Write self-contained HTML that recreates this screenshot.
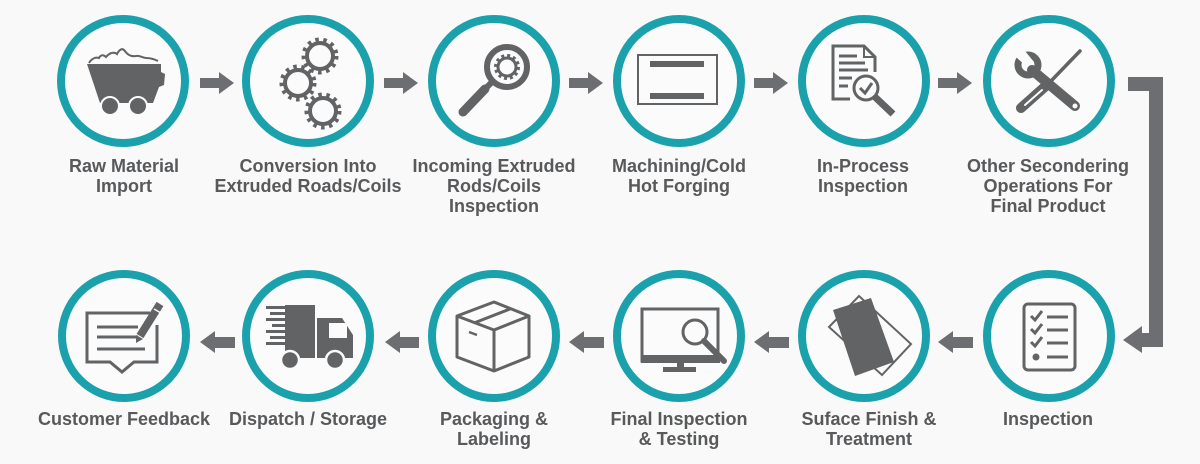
<!DOCTYPE html>
<html><head><meta charset="utf-8"><style>
html,body{margin:0;padding:0;background:#f9f9f9;}
svg{display:block;}
text{font-family:"Liberation Sans",Arial,sans-serif;font-weight:bold;font-size:18px;fill:#58595b;text-anchor:middle;}
</style></head><body>
<svg width="1200" height="464" viewBox="0 0 1200 464" xmlns="http://www.w3.org/2000/svg">
<rect x="0" y="0" width="1200" height="464" fill="#f9f9f9"/>
<g fill="#fbfbfb" stroke="#1ba1ac" stroke-width="8">
<circle cx="123" cy="81" r="62"/><circle cx="308" cy="81" r="62"/><circle cx="494" cy="81" r="62"/>
<circle cx="679" cy="81" r="62"/><circle cx="864" cy="81" r="62"/><circle cx="1049" cy="81" r="62"/>
<circle cx="124" cy="336" r="62"/><circle cx="308" cy="336" r="62"/><circle cx="494" cy="336" r="62"/>
<circle cx="679" cy="336" r="62"/><circle cx="864" cy="336" r="62"/><circle cx="1049" cy="336" r="62"/>
</g>
<!-- row 1 arrows -->
<g fill="#6d6e71">
<polygon points="200,78 219,78 219,72 234,83 219,94 219,88 200,88"/>
<polygon points="384,78 403,78 403,72 418,83 403,94 403,88 384,88"/>
<polygon points="569,78 588,78 588,72 603,83 588,94 588,88 569,88"/>
<polygon points="754,78 773,78 773,72 788,83 773,94 773,88 754,88"/>
<polygon points="938,78 957,78 957,72 972,83 957,94 957,88 938,88"/>
<!-- row 2 arrows (left) -->
<polygon points="200,342 215,331 215,337 235,337 235,348 215,348 215,353"/>
<polygon points="385,342 400,331 400,337 419,337 419,348 400,348 400,353"/>
<polygon points="569,342 584,331 584,337 604,337 604,348 584,348 584,353"/>
<polygon points="754,342 769,331 769,337 789,337 789,348 769,348 769,353"/>
<polygon points="938,342 953,331 953,337 973,337 973,348 953,348 953,353"/>
<!-- connector -->
<polygon points="1128,77 1163,77 1163,347 1142,347 1142,353 1123,340 1142,326 1142,333 1149,333 1149,91 1128,91"/>
</g>

<g fill="#626365" stroke="none">
<!-- icon1 mine cart -->
<path d="M87,64 L161,64 L161,72 L165,74 L164,85 L159,87 L153,103 L100,103 Z"/>
<path d="M89,63 C92,58 96,57 99,58 C101,54 104,55 106,57 C110,52 115,52 117,54 C119,50 122,48 124,50 C127,54 130,57 136,56 C140,55 142,58 146,58 C150,58 154,59 158,61" fill="none" stroke="#626365" stroke-width="2"/>
<circle cx="110" cy="106" r="9" stroke="#fbfbfb" stroke-width="2"/>
<circle cx="138" cy="106" r="9" stroke="#fbfbfb" stroke-width="2"/>
</g>
<!-- icon2 gears -->
<g fill="none" stroke="#626365">
<circle cx="320" cy="56" r="13" stroke-width="4"/><circle cx="320" cy="56" r="16.5" stroke-width="4" stroke-dasharray="3.5 4.6"/>
<circle cx="298" cy="83" r="13" stroke-width="4"/><circle cx="298" cy="83" r="16.5" stroke-width="4" stroke-dasharray="3.5 4.6"/>
<circle cx="323" cy="111" r="13" stroke-width="4"/><circle cx="323" cy="111" r="16.5" stroke-width="4" stroke-dasharray="3.5 4.6"/>
</g>
<!-- icon3 magnifier with gear -->
<g fill="none" stroke="#626365">
<circle cx="507" cy="67" r="20" stroke-width="6"/>
<circle cx="507" cy="67" r="9" stroke-width="3"/>
<circle cx="507" cy="67" r="11.5" stroke-width="3" stroke-dasharray="3 3"/>
<line x1="492" y1="82" x2="485" y2="89" stroke-width="6"/>
<line x1="485" y1="89" x2="463" y2="112" stroke-width="9" stroke-linecap="round"/>
</g>
<!-- icon4 machining -->
<rect x="638" y="55" width="79" height="49" fill="none" stroke="#626365" stroke-width="2"/>
<rect x="650" y="61" width="54" height="6" fill="#626365"/>
<rect x="650" y="93" width="54" height="6" fill="#626365"/>
<!-- icon5 document with magnifier -->
<g fill="none" stroke="#626365" stroke-width="3">
<path d="M850,99 L833,99 L833,46 L864,46 L875,57 L875,72"/>
<path d="M864,46 L864,57 L875,57" stroke-width="2"/>
<line x1="839" y1="56" x2="857" y2="56"/>
<line x1="839" y1="63" x2="865" y2="63"/>
<line x1="839" y1="70" x2="868" y2="70"/>
<line x1="839" y1="78" x2="852" y2="78"/>
<line x1="839" y1="86" x2="848" y2="86"/>
<circle cx="866" cy="88" r="12"/>
<path d="M860,88 L865,93 L872,83"/>
<line x1="875" y1="97" x2="893" y2="114" stroke-width="7"/>
</g>
<!-- icon6 wrench and screwdriver -->
<g stroke="#626365" fill="none" stroke-linecap="round">
<line x1="1080" y1="51" x2="1052" y2="80" stroke-width="3.5"/>
<line x1="1048" y1="84" x2="1021" y2="108" stroke-width="10"/>
<line x1="1042" y1="90" x2="1025" y2="105" stroke-width="2" stroke="#fbfbfb"/>
<line x1="1032" y1="70" x2="1075" y2="106" stroke-width="10"/>
<circle cx="1028" cy="65" r="10" stroke-width="7"/>
</g>
<polygon points="1013,51 1025,51 1034,62 1026,66 1017,58" fill="#fbfbfb"/>
<circle cx="1075" cy="106" r="2.5" fill="#fbfbfb"/>

<!-- row 2 icons -->
<!-- feedback -->
<g fill="none" stroke="#626365" stroke-width="3">
<path d="M150,313 L87,313 L87,362 L110,362 L122,372 L134,362 L157,362 L157,325"/>
<line x1="97" y1="327" x2="138" y2="327"/>
<line x1="97" y1="337" x2="138" y2="337"/>
<line x1="97" y1="349" x2="145" y2="349"/>
<line x1="160" y1="304" x2="140" y2="336" stroke-width="8"/>
</g>
<polygon points="136,343 136,335 143,339" fill="#626365"/>
<line x1="154" y1="309" x2="161" y2="313" stroke="#fbfbfb" stroke-width="1.5"/>
<!-- truck -->
<g fill="#626365">
<rect x="285" y="305" width="30" height="53"/>
<rect x="266" y="306" width="20" height="3"/><rect x="270" y="312" width="16" height="3"/>
<rect x="266" y="318" width="20" height="3"/><rect x="272" y="324" width="14" height="3"/>
<rect x="266" y="330" width="20" height="3"/><rect x="270" y="336" width="16" height="3"/>
<rect x="266" y="342" width="20" height="3"/>
<path d="M317,318 L342,318 L353,335 L353,358 L317,358 Z"/>
<rect x="329" y="323" width="18" height="15" fill="#fbfbfb"/>
<circle cx="290" cy="360" r="9" stroke="#fbfbfb" stroke-width="2.5"/>
<circle cx="335" cy="360" r="9" stroke="#fbfbfb" stroke-width="2.5"/>
</g>
<!-- box -->
<g fill="none" stroke="#626365" stroke-width="3" stroke-linejoin="round">
<path d="M457,316 L494,302 L529,316 L494,330 Z"/>
<path d="M457,316 L457,357 L494,371 L529,357 L529,316"/>
<line x1="494" y1="330" x2="494" y2="371"/>
<path d="M474,323 L510,309"/>
<line x1="469" y1="332" x2="477" y2="335" stroke-width="2.5"/>
</g>
<!-- monitor -->
<g fill="none" stroke="#626365" stroke-width="3">
<rect x="642" y="309" width="76" height="52"/>
</g>
<rect x="641" y="355" width="79" height="8" fill="#626365"/>
<rect x="677" y="362" width="7" height="7" fill="#626365"/>
<rect x="663" y="367" width="33" height="5" fill="#626365"/>
<circle cx="695" cy="332" r="15" fill="#fbfbfb"/>
<circle cx="695" cy="332" r="12" fill="none" stroke="#626365" stroke-width="3"/>
<line x1="704" y1="341" x2="724" y2="361" stroke="#626365" stroke-width="6" stroke-linecap="round"/>
<!-- surface finish -->
<polygon points="829,327 859,296 911,344 882,375" fill="none" stroke="#626365" stroke-width="2"/>
<polygon points="833,310 871,298 894,362 855,376" fill="#626365"/>
<!-- checklist -->
<rect x="1024" y="304" width="51" height="66" rx="4" fill="none" stroke="#626365" stroke-width="3"/>
<g fill="none" stroke="#626365" stroke-width="3">
<path d="M1031,316 L1035,320 L1042,311"/><line x1="1047" y1="317" x2="1068" y2="317"/>
<path d="M1031,329 L1035,333 L1042,324"/><line x1="1047" y1="330" x2="1068" y2="330"/>
<path d="M1031,342 L1035,346 L1042,337"/><line x1="1047" y1="343" x2="1068" y2="343"/>
<line x1="1047" y1="357" x2="1068" y2="357"/>
</g>
<circle cx="1036" cy="357" r="3.5" fill="#626365"/>

<!-- labels row 1 -->
<text x="124" y="172">Raw Material</text><text x="124" y="192">Import</text>
<text x="308" y="172">Conversion Into</text><text x="308" y="192">Extruded Roads/Coils</text>
<text x="494" y="172">Incoming Extruded</text><text x="494" y="192">Rods/Coils</text><text x="494" y="212">Inspection</text>
<text x="679" y="172">Machining/Cold</text><text x="679" y="192">Hot Forging</text>
<text x="863" y="172">In-Process</text><text x="863" y="192">Inspection</text>
<text x="1048" y="172">Other Secondering</text><text x="1048" y="192">Operations For</text><text x="1048" y="212">Final Product</text>
<!-- labels row 2 -->
<text x="124" y="425">Customer Feedback</text>
<text x="308" y="425">Dispatch / Storage</text>
<text x="494" y="425">Packaging &amp;</text><text x="494" y="445">Labeling</text>
<text x="679" y="425">Final Inspection</text><text x="679" y="445">&amp; Testing</text>
<text x="869" y="425">Suface Finish &amp;</text><text x="869" y="445">Treatment</text>
<text x="1048" y="425">Inspection</text>
</svg>
</body></html>
